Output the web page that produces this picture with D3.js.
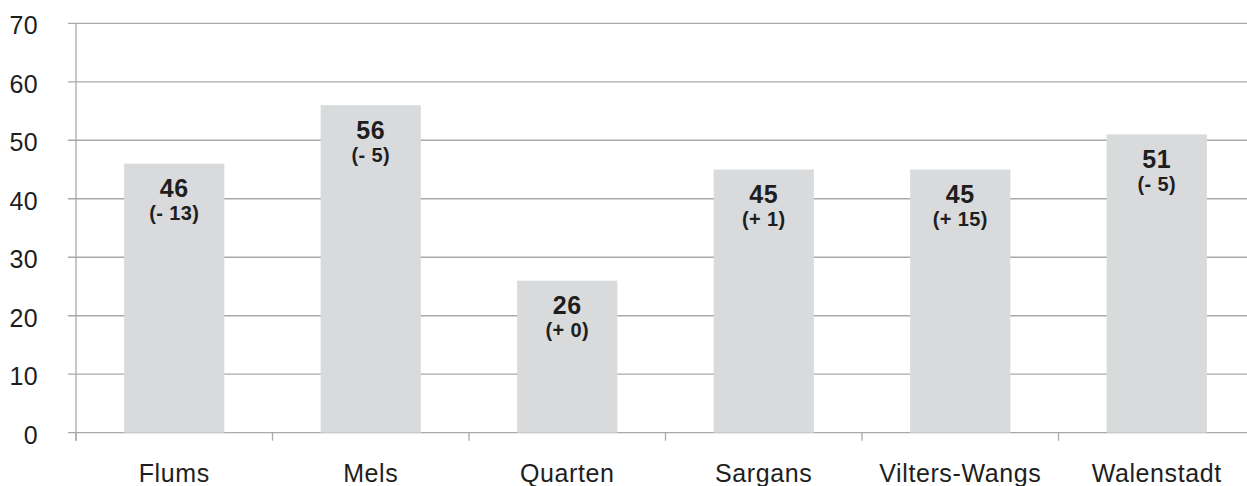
<!DOCTYPE html>
<html>
<head>
<meta charset="utf-8">
<script src="https://cdn.jsdelivr.net/npm/d3@7"></script>
<style>
  html, body { margin: 0; padding: 0; background: #fff; }
  svg { display: block; font-family: "Liberation Sans", Arial, Helvetica, sans-serif; }
</style>
</head>
<body>
<svg id="chart" width="1247" height="486"></svg>
<script>
// Municipalities and their values, with change against the previous period
const categories = ["Flums", "Mels", "Quarten", "Sargans", "Vilters-Wangs", "Walenstadt"];
const values = [46, 56, 26, 45, 45, 51];
const changes = [-13, -5, 0, 1, 15, -5];
const yTicks = [0, 10, 20, 30, 40, 50, 60, 70];

const svg = d3.select("#chart");
const plotLeft = 76, plotRight = 1255, plotTop = 23.3, plotBottom = 432.7;

const x = d3.scaleBand()
  .domain(categories)
  .range([plotLeft, plotRight])
  .paddingInner(0.49)
  .paddingOuter(0.245);

const y = d3.scaleLinear()
  .domain([0, 70])
  .range([plotBottom, plotTop]);

const lineColor = "#a9a9a9";
const textColor = "#1e1e1e";

// horizontal gridlines with short outward ticks
svg.append("g")
  .selectAll("line")
  .data(yTicks)
  .join("line")
  .attr("x1", plotLeft - 8)
  .attr("x2", plotRight)
  .attr("y1", d => y(d))
  .attr("y2", d => y(d))
  .attr("stroke", lineColor)
  .attr("stroke-width", 1.3);

// y axis labels
const yAxis = svg.append("g")
  .attr("transform", `translate(${plotLeft - 38},0)`)
  .call(d3.axisLeft(y).tickValues(yTicks).tickSize(0).tickPadding(0).tickFormat(d3.format("d")));
yAxis.select(".domain").remove();
yAxis.selectAll("text")
  .attr("font-size", 25)
  .attr("fill", textColor)
  .attr("font-family", "Liberation Sans, Arial, sans-serif")
  .attr("letter-spacing", "0.4px")
  .attr("dy", "0.42em");

// vertical axis line
svg.append("line")
  .attr("x1", plotLeft).attr("x2", plotLeft)
  .attr("y1", plotTop).attr("y2", plotBottom + 8)
  .attr("stroke", lineColor)
  .attr("stroke-width", 1.3);

// bars
svg.append("g")
  .selectAll("rect")
  .data(categories)
  .join("rect")
  .attr("x", d => x(d))
  .attr("width", x.bandwidth())
  .attr("y", (d, i) => y(values[i]))
  .attr("height", (d, i) => y(0) - y(values[i]))
  .attr("fill", "#d9dadc");

// category boundary ticks
const half = (x.step() - x.bandwidth()) / 2;
svg.append("g")
  .selectAll("line")
  .data(categories)
  .join("line")
  .attr("x1", d => x(d) - half)
  .attr("x2", d => x(d) - half)
  .attr("y1", plotBottom)
  .attr("y2", plotBottom + 8)
  .attr("stroke", lineColor)
  .attr("stroke-width", 1.3);

// category labels
const xAxis = svg.append("g")
  .attr("transform", `translate(0,${plotBottom})`)
  .call(d3.axisBottom(x).tickSize(0).tickPadding(0));
xAxis.select(".domain").remove();
xAxis.selectAll("text")
  .attr("font-size", 25)
  .attr("fill", textColor)
  .attr("font-family", "Liberation Sans, Arial, sans-serif")
  .attr("letter-spacing", "0.6px")
  .attr("dy", null)
  .attr("y", 49);

// value labels
const fmtChange = c => "(" + (c < 0 ? "- " + Math.abs(c) : "+ " + c) + ")";
const labels = svg.append("g")
  .selectAll("g")
  .data(categories)
  .join("g")
  .attr("transform", (d, i) => `translate(${x(d) + x.bandwidth() / 2},${y(values[i])})`);

labels.append("text")
  .attr("text-anchor", "middle")
  .attr("y", 33.5)
  .attr("font-size", 25)
  .attr("font-weight", "bold")
  .attr("letter-spacing", "0.5px")
  .attr("fill", textColor)
  .text((d, i) => values[i]);

labels.append("text")
  .attr("text-anchor", "middle")
  .attr("y", 56.5)
  .attr("font-size", 20)
  .attr("font-weight", "bold")
  .attr("letter-spacing", "0.4px")
  .attr("fill", textColor)
  .text((d, i) => fmtChange(changes[i]));
</script>
</body>
</html>
